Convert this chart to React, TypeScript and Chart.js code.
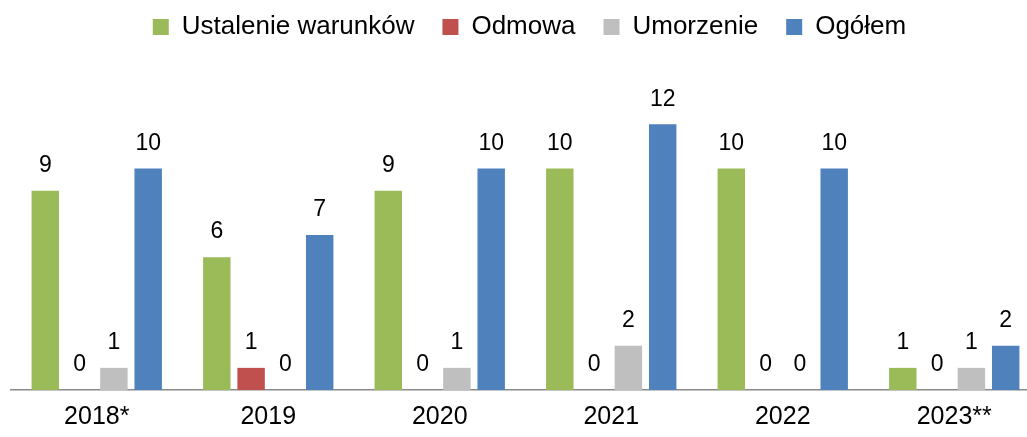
import React, { useEffect, useRef } from "react";
import { Chart, registerables } from "chart.js";

Chart.register(...registerables);

const categories = ["2018*", "2019", "2020", "2021", "2022", "2023**"];
const seriesNames = ["Ustalenie warunków", "Odmowa", "Umorzenie", "Ogółem"];
const ustalenie = [9, 6, 9, 10, 10, 1];
const odmowa = [0, 1, 0, 0, 0, 0];
const umorzenie = [1, 0, 1, 2, 0, 1];
const ogolem = [10, 7, 10, 12, 10, 2];
const colors = ["#9BBB59", "#C0504D", "#BFBFBF", "#4F81BD"];

const FONT = "'Liberation Sans', Arial, sans-serif";

const dataLabels = {
  id: "dataLabels",
  afterDatasetsDraw(chart: any) {
    const ctx = chart.ctx;
    ctx.save();
    ctx.fillStyle = "#000";
    ctx.font = `23px ${FONT}`;
    ctx.textAlign = "center";
    ctx.textBaseline = "middle";
    chart.data.datasets.forEach((ds: any, i: number) => {
      const meta = chart.getDatasetMeta(i);
      meta.data.forEach((bar: any, j: number) => {
        ctx.fillText(String(ds.data[j]), bar.x, bar.y - 25);
      });
    });
    ctx.restore();
  },
};

const legendSpace = {
  id: "legendSpace",
  beforeInit(chart: any) {
    const legend = chart.legend;
    const origFit = legend.fit;
    legend.fit = function () {
      origFit.call(this);
      this.height = 80;
    };
    const origDraw = legend.draw;
    legend.draw = function () {
      const ctx = this.ctx;
      ctx.save();
      ctx.translate(4, -14);
      origDraw.call(this);
      ctx.restore();
    };
  },
};

export default function App() {
  const ref = useRef<HTMLCanvasElement>(null);
  useEffect(() => {
    const values = [ustalenie, odmowa, umorzenie, ogolem];
    const chart = new Chart(ref.current!, {
      type: "bar",
      data: {
        labels: categories,
        datasets: seriesNames.map((name, i) => ({
          label: name,
          data: values[i],
          backgroundColor: colors[i],
          borderWidth: 0,
          categoryPercentage: 0.8,
          barPercentage: 0.8,
        })),
      },
      options: {
        animation: false,
        responsive: false,
        maintainAspectRatio: false,
        layout: { padding: { left: 11, right: 10, top: 0, bottom: 0 } },
        plugins: {
          legend: {
            position: "top",
            labels: {
              boxWidth: 16,
              boxHeight: 16,
              padding: 28,
              color: "#000",
              font: { size: 26, family: FONT },
            },
          },
          tooltip: { enabled: false },
        },
        scales: {
          x: {
            grid: { display: false, drawTicks: false },
            border: { display: true, color: "#8a8a8a", width: 1.5 },
            ticks: { color: "#000", font: { size: 25, family: FONT }, padding: 12 },
            afterFit(scale: any) {
              scale.height = 47;
            },
          },
          y: {
            display: false,
            min: 0,
            max: 14,
          },
        },
      },
      plugins: [dataLabels, legendSpace],
    });
    return () => chart.destroy();
  }, []);
  return (
    <div
      style={{
        position: "fixed",
        left: 0,
        top: 0,
        width: 1027,
        height: 437,
        overflow: "hidden",
        background: "#fff",
      }}
    >
      <canvas ref={ref} width={1050} height={437} style={{ display: "block" }} />
    </div>
  );
}
